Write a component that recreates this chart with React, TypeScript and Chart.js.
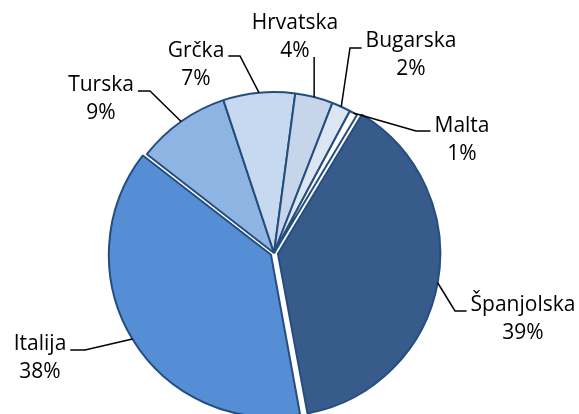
import React, { useEffect, useRef } from "react";
import { Chart, registerables } from "chart.js";

Chart.register(...registerables);

// ---- data ----
const categories = ["Španjolska", "Italija", "Turska", "Grčka", "Hrvatska", "Bugarska", "Malta"];
const shares = [38.5, 38.4, 9.4, 7.2, 3.8, 1.9, 0.8];
const percentLabels = ["39%", "38%", "9%", "7%", "4%", "2%", "1%"];

// ---- styles ----
const sliceColors = ["#375B8A", "#558ED5", "#8EB4E3", "#C6D9F1", "#C7D5EA", "#DCE6F2", "#FFFFFF"];
const sliceOffsets = [16, 14, 0, 0, 0, 0, 0]; // Chart.js translates arcs by offset/4
const BORDER = "#254E7F";
const FONT = '21px "Open Sans"';
const LINE_GAP = 28;

// label layout, relative to the pie centre
type Layout = { lx: number; ly: number; ex?: number; ey: number; side?: "left" | "right"; vertical?: boolean };
const LABEL_LAYOUT: Layout[] = [
  { lx: 249, ly: 58, ex: 181, ey: 58, side: "right" },
  { lx: -234, ly: 97, ex: -189, ey: 97, side: "left" },
  { lx: -173, ly: -162, ex: -124, ey: -162, side: "left" },
  { lx: -78, ly: -196, ex: -34, ey: -197, side: "left" },
  { lx: 21, ly: -224, ey: -196, vertical: true },
  { lx: 137, ly: -206, ex: 76, ey: -205, side: "right" },
  { lx: 188, ly: -121, ex: 142, ey: -122, side: "right" },
];

const labelPlugin = {
  id: "pieLabels",
  afterDatasetsDraw(chart: any) {
    const ctx: CanvasRenderingContext2D = chart.ctx;
    const meta = chart.getDatasetMeta(0);
    ctx.save();
    ctx.font = FONT;
    ctx.fillStyle = "#000";
    ctx.strokeStyle = "#000";
    ctx.lineWidth = 1.5;
    ctx.textAlign = "center";
    ctx.textBaseline = "alphabetic";
    meta.data.forEach((arc: any, i: number) => {
      const { x, y, startAngle, endAngle, outerRadius } = arc.getProps(
        ["x", "y", "startAngle", "endAngle", "outerRadius"],
        true
      );
      const off = (sliceOffsets[i] || 0) / 4;
      const circ = endAngle - startAngle;
      const fix = 1 - Math.sin(Math.min(Math.PI, circ));
      const mid = (startAngle + endAngle) / 2;
      const rr = outerRadius + off + off * fix;
      const ax = x + Math.cos(mid) * rr;
      const ay = y + Math.sin(mid) * rr;
      const L = LABEL_LAYOUT[i];
      const tx = x + L.lx;
      const ty = y + L.ly;
      ctx.fillText(categories[i], tx, ty);
      ctx.fillText(percentLabels[i], tx, ty + LINE_GAP);
      ctx.beginPath();
      ctx.moveTo(ax, ay);
      if (L.vertical) {
        ctx.lineTo(ax, y + L.ey);
      } else {
        const w = ctx.measureText(categories[i]).width;
        const endX = L.side === "left" ? tx + w / 2 + 4 : tx - w / 2 - 4;
        ctx.lineTo(x + (L.ex as number), y + L.ey);
        ctx.lineTo(endX, y + L.ey);
      }
      ctx.stroke();
    });
    ctx.restore();
  },
};

export default function App() {
  const ref = useRef<HTMLCanvasElement | null>(null);
  useEffect(() => {
    if (!ref.current) return;
    const chart = new Chart(ref.current, {
      type: "pie",
      data: {
        labels: categories,
        datasets: [
          {
            data: shares,
            backgroundColor: sliceColors,
            borderColor: BORDER,
            borderWidth: 2,
            offset: sliceOffsets,
            clip: false as any,
          },
        ],
      },
      options: {
        responsive: false,
        animation: false,
        events: [],
        rotation: 31,
        radius: 161,
        layout: { padding: { left: 0, right: 31, top: 92, bottom: 0 } },
        plugins: {
          legend: { display: false },
          tooltip: { enabled: false },
        },
      },
      plugins: [labelPlugin],
    });
    return () => chart.destroy();
  }, []);
  return (
    <div style={{ position: "fixed", left: 0, top: 0, width: 579, height: 414, background: "#fff" }}>
      <canvas ref={ref} width={579} height={414} style={{ display: "block", width: 579, height: 414 }} />
    </div>
  );
}
